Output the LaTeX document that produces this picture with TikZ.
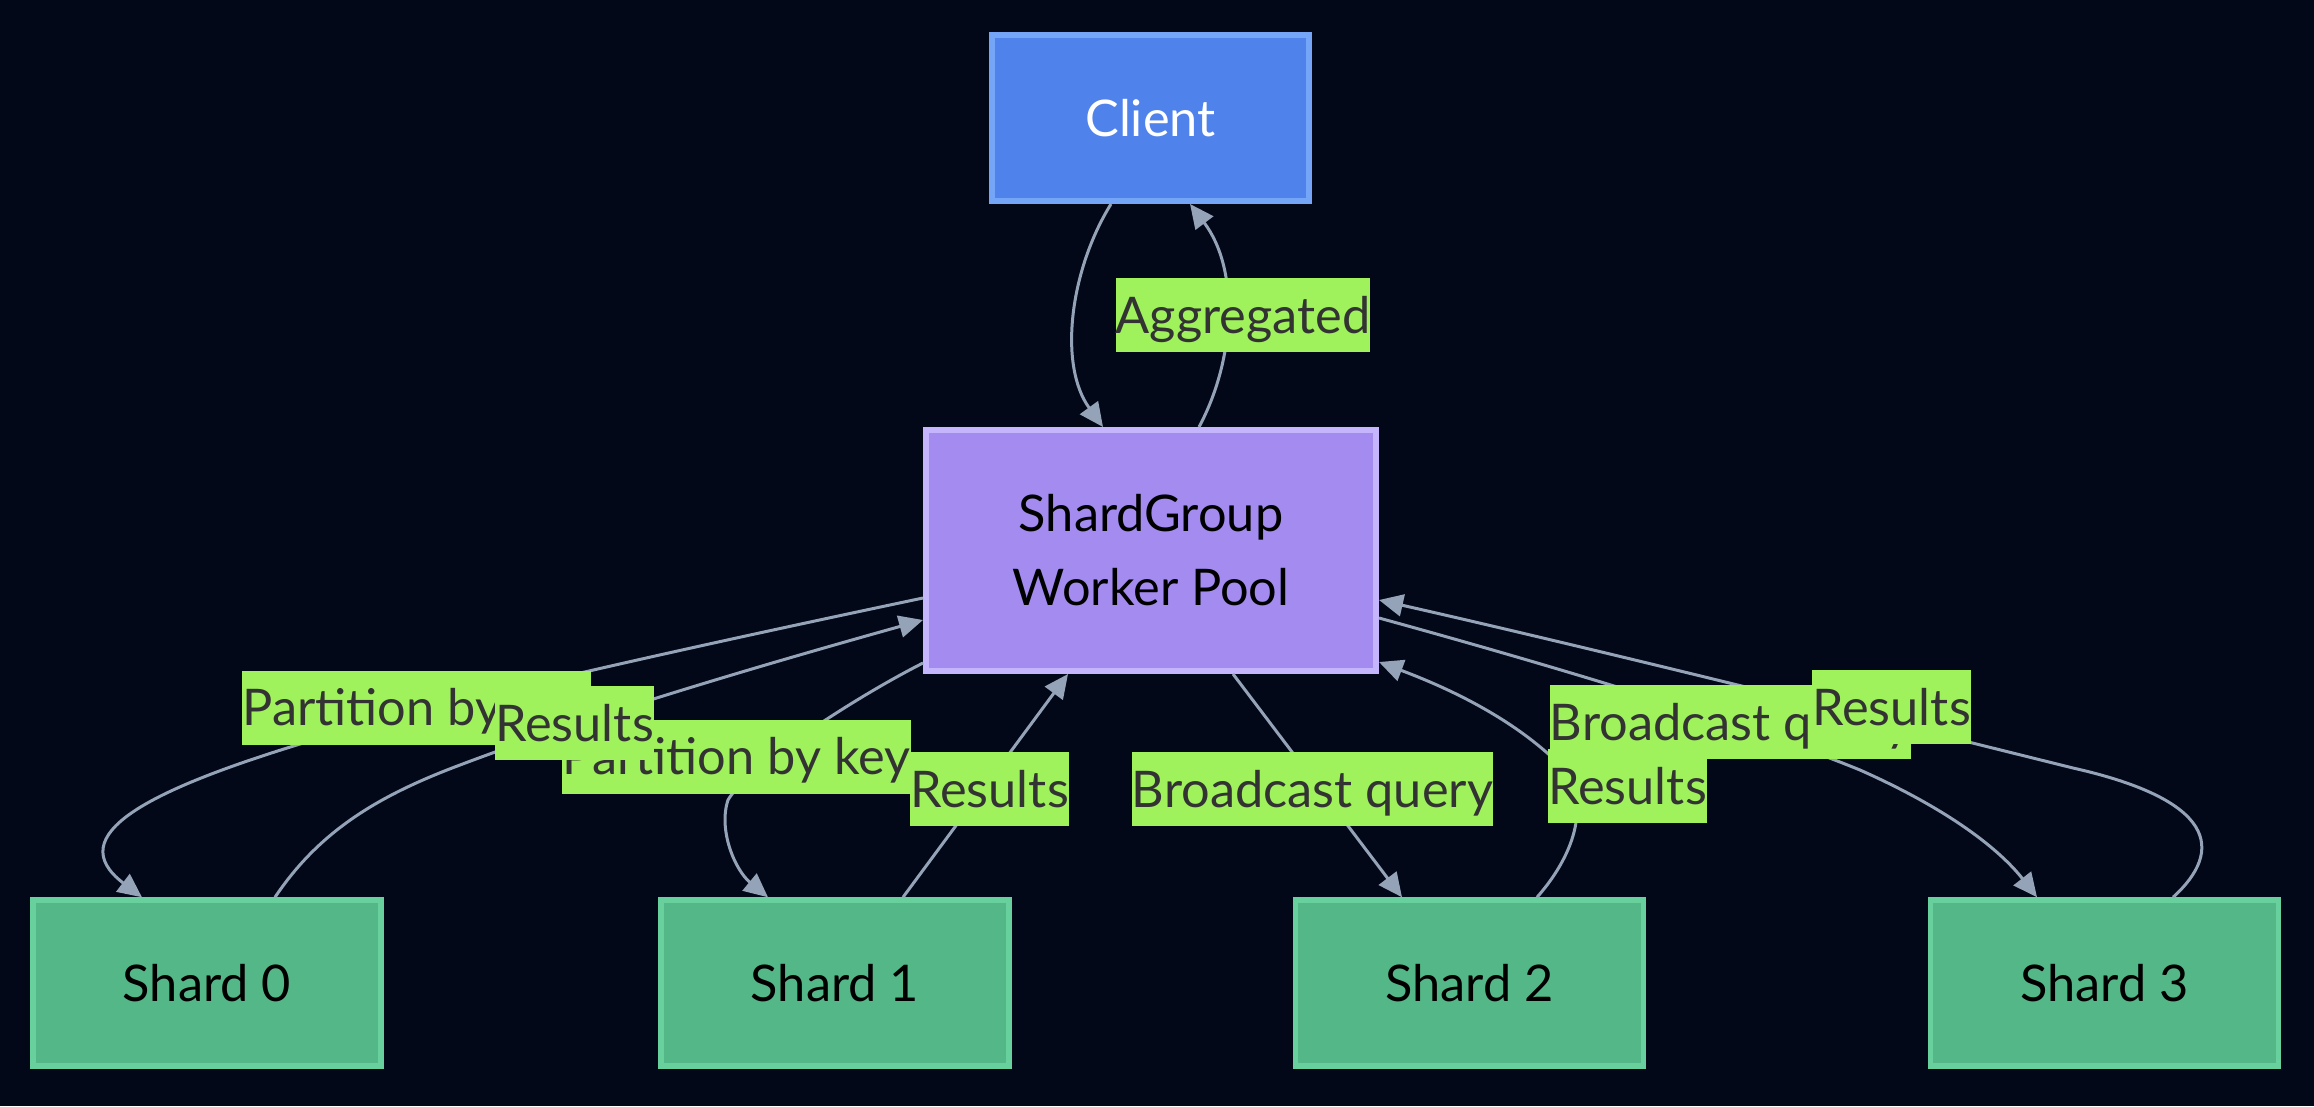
\documentclass[tikz,border=0pt]{standalone}
\usepackage{fontspec}
\setmainfont{Lato}
\usetikzlibrary{arrows.meta,calc}
\definecolor{bgc}{HTML}{020817}
\definecolor{clientfill}{HTML}{5082EC}
\definecolor{clientline}{HTML}{74A5F7}
\definecolor{sgfill}{HTML}{A38BF0}
\definecolor{sgline}{HTML}{C4B5FD}
\definecolor{shardfill}{HTML}{54B787}
\definecolor{shardline}{HTML}{68D09D}
\definecolor{lblfill}{HTML}{A0F25C}
\definecolor{lbltext}{HTML}{333333}
\definecolor{edgec}{HTML}{94A3B8}
\begin{document}
\begin{tikzpicture}[x=1pt,y=-1pt,
  bigfont/.style={font=\fontsize{50.5}{74}\selectfont},
  clientbox/.style={bigfont, draw=clientline, fill=clientfill, line width=6pt, text=white,
     minimum width=317pt, minimum height=166pt, inner sep=0pt, text height=44pt, text depth=8pt},
  groupbox/.style={bigfont, draw=sgline, fill=sgfill, line width=6pt, text=black,
     minimum width=450pt, minimum height=241pt, inner sep=0pt, align=center},
  shardbox/.style={bigfont, draw=shardline, fill=shardfill, line width=5.5pt, text=black,
     minimum width=348pt, minimum height=166pt, inner sep=0pt, text height=44pt, text depth=8pt},
  lbl/.style={bigfont, fill=lblfill, text=lbltext, inner sep=0pt, minimum height=74pt,
     text height=44pt, text depth=8pt},
  edge/.style={draw=edgec, line width=3pt, -{Triangle[length=24pt,width=22pt]}}
]
\fill[bgc] (0,0) rectangle (2314,1106);
\useasboundingbox (0,0) rectangle (2314,1106);

% nodes
\node[clientbox] (cl) at (1150.5,118) {Client};
\node[groupbox] (sg) at (1151,550.5) {ShardGroup\\Worker Pool};
\node[shardbox] (s0) at (207,983) {Shard 0};
\node[shardbox] (s1) at (835,983) {Shard 1};
\node[shardbox] (s2) at (1469.5,983) {Shard 2};
\node[shardbox] (s3) at (2104.5,983) {Shard 3};

% edges
\draw[edge] ($(cl.south)+(-39.5,0)$) .. controls (1070,270) and (1058,365) .. ($(sg.north)+(-48,0)$);
\draw[edge] ($(sg.north)+(48,0)$) .. controls (1235,360) and (1240,270) .. ($(cl.south)+(39.5,0)$);

\draw[edge] ($(sg.west)+(0,47.5)$) .. controls (700,645) and (450,700) .. (300,744)
   .. controls (150,790) and (60,835) .. ($(s0.north)+(-65,0)$);
\draw[edge] ($(s0.north)+(68,0)$) .. controls (320,830) and (380,795) .. (460,765)
   .. controls (600,712) and (780,660) .. ($(sg.west)+(0,69.5)$);

\draw[edge] ($(sg.west)+(0,112.5)$) .. controls (850,700) and (745,770) .. (728,800)
   .. controls (718,830) and (735,870) .. ($(s1.north)+(-67,0)$);
\draw[edge] ($(s1.north)+(68,0)$) -- ($(sg.south)+(-83,0)$);

\draw[edge] ($(sg.south)+(82,0)$) -- ($(s2.north)+(-67.5,0)$);
\draw[edge] ($(s2.north)+(67.5,0)$) .. controls (1570,860) and (1595,805) .. (1560,765)
   .. controls (1510,715) and (1440,685) .. ($(sg.east)+(0,111.5)$);

\draw[edge] ($(sg.east)+(0,67.5)$) .. controls (1550,665) and (1750,725) .. (1860,770)
   .. controls (1950,810) and (2000,850) .. ($(s3.north)+(-67.5,0)$);
\draw[edge] ($(s3.north)+(68.5,0)$) .. controls (2225,850) and (2215,800) .. (2073,768)
   .. controls (1900,725) and (1600,650) .. ($(sg.east)+(0,49.5)$);

% labels
\node[lbl, minimum width=250pt] (lagg) at (1243,315) {Aggregated};
\node[lbl, minimum width=349pt] (lp0) at (416.5,707.5) {Partition by key};
\node[lbl, minimum width=349pt] (lp1) at (736.5,756.5) {Partition by key};
\node[lbl, minimum width=155pt] (lr0) at (574.5,723) {Results};
\node[lbl, minimum width=155pt] (lr1) at (989.5,789) {Results};
\node[lbl, minimum width=357pt] (lb2) at (1312.5,789) {Broadcast query};
\node[lbl, minimum width=357pt] (lb3) at (1730.5,722) {Broadcast query};
\node[lbl, minimum width=155pt] (lr2) at (1627.5,786) {Results};
\node[lbl, minimum width=155pt] (lr3) at (1891.5,707) {Results};
\end{tikzpicture}
\end{document}
